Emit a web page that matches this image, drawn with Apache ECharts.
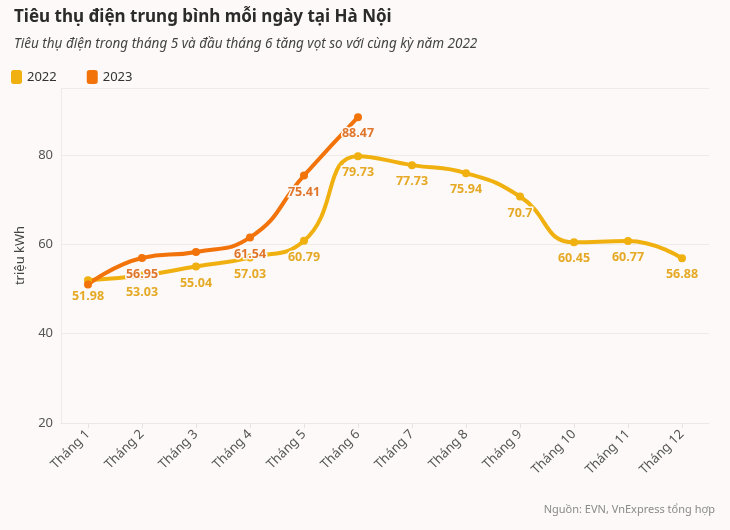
<!DOCTYPE html>
<html>
<head>
<meta charset="utf-8">
<script src="https://cdn.jsdelivr.net/npm/echarts@6/dist/echarts.min.js"></script>
<style>
  html, body { margin: 0; padding: 0; background: #fcf9f8; }
  #chart-container { width: 730px; height: 530px; }
</style>
</head>
<body>
<div id="chart-container"></div>
<script>
var months = ["Tháng 1", "Tháng 2", "Tháng 3", "Tháng 4", "Tháng 5", "Tháng 6",
  "Tháng 7", "Tháng 8", "Tháng 9", "Tháng 10", "Tháng 11", "Tháng 12"];
var values2022 = [51.98, 53.03, 55.04, 57.03, 60.79, 79.73, 77.73, 75.94, 70.7, 60.45, 60.77, 56.88];
var values2023 = [51.0, 56.95, 58.3, 61.54, 75.41, 88.47];
// the source hides these 2023 labels
var hidden2023 = [0, 2];

var dom = document.getElementById("chart-container");
var myChart = echarts.init(dom, null, { renderer: "canvas" });

var font = "'Noto Sans', sans-serif";
var c2022 = "#f0b00f";
var c2023 = "#f2730a";

var data2023 = values2023.map(function (v, i) {
  if (hidden2023.indexOf(i) >= 0) {
    return { value: v, label: { show: false } };
  }
  return v;
});

var option = {
  backgroundColor: "#fcf9f8",
  textStyle: { fontFamily: font },
  title: [
    {
      text: "Tiêu thụ điện trung bình mỗi ngày tại Hà Nội",
      left: 9,
      top: 4,
      textStyle: { fontSize: 17, fontWeight: "bold", color: "#2b2b2b", fontFamily: font }
    },
    {
      text: "Tiêu thụ điện trong tháng 5 và đầu tháng 6 tăng vọt so với cùng kỳ năm 2022",
      left: 9,
      top: 32,
      textStyle: { fontSize: 13.5, fontStyle: "italic", fontWeight: "normal", color: "#444", fontFamily: font }
    },
    {
      text: "Nguồn: EVN, VnExpress tổng hợp",
      right: 10,
      bottom: 10,
      textStyle: { fontSize: 11, fontWeight: "normal", color: "#8a8a8a", fontFamily: font }
    }
  ],
  legend: {
    left: 6,
    top: 65,
    itemWidth: 11,
    itemHeight: 14,
    itemGap: 30,
    icon: "roundRect",
    textStyle: { fontSize: 13, color: "#333" },
    data: [
      { name: "2022", itemStyle: { color: c2022 } },
      { name: "2023", itemStyle: { color: c2023 } }
    ]
  },
  grid: { left: 61, right: 21, top: 88, bottom: 107 },
  xAxis: {
    type: "category",
    data: months,
    boundaryGap: true,
    axisLine: { show: true, lineStyle: { color: "#ece8e6" } },
    axisTick: { show: true, alignWithLabel: true, length: 5, lineStyle: { color: "#e8e3e1" } },
    axisLabel: { rotate: 45, fontSize: 13, color: "#555", margin: 9 }
  },
  yAxis: {
    type: "value",
    min: 20,
    max: 95,
    interval: 20,
    name: "triệu kWh",
    nameLocation: "middle",
    nameGap: 33,
    nameTextStyle: { fontSize: 13, color: "#444" },
    axisLine: { show: true, lineStyle: { color: "#eeeae8" } },
    axisTick: { show: false },
    axisLabel: { fontSize: 13, color: "#555", showMaxLabel: false },
    splitLine: { lineStyle: { color: "#efebe9" } }
  },
  series: [
    {
      name: "2022",
      type: "line",
      smooth: true,
      data: values2022,
      color: c2022,
      symbol: "circle",
      symbolSize: 8,
      lineStyle: { width: 4, color: c2022 },
      itemStyle: { color: c2022 },
      label: {
        show: true,
        position: "bottom",
        distance: 6,
        fontSize: 12.5,
        fontWeight: "bold",
        color: "#e5a925",
        textBorderColor: "#fcf9f8",
        textBorderWidth: 3
      }
    },
    {
      name: "2023",
      type: "line",
      smooth: true,
      data: data2023,
      color: c2023,
      symbol: "circle",
      symbolSize: 8,
      lineStyle: { width: 4, color: c2023 },
      itemStyle: { color: c2023 },
      z: 3,
      label: {
        show: true,
        position: "bottom",
        distance: 6,
        fontSize: 12.5,
        fontWeight: "bold",
        color: "#e0762b",
        textBorderColor: "#fcf9f8",
        textBorderWidth: 3
      }
    }
  ]
};

myChart.setOption(option);
window.addEventListener("resize", myChart.resize);
</script>
</body>
</html>
